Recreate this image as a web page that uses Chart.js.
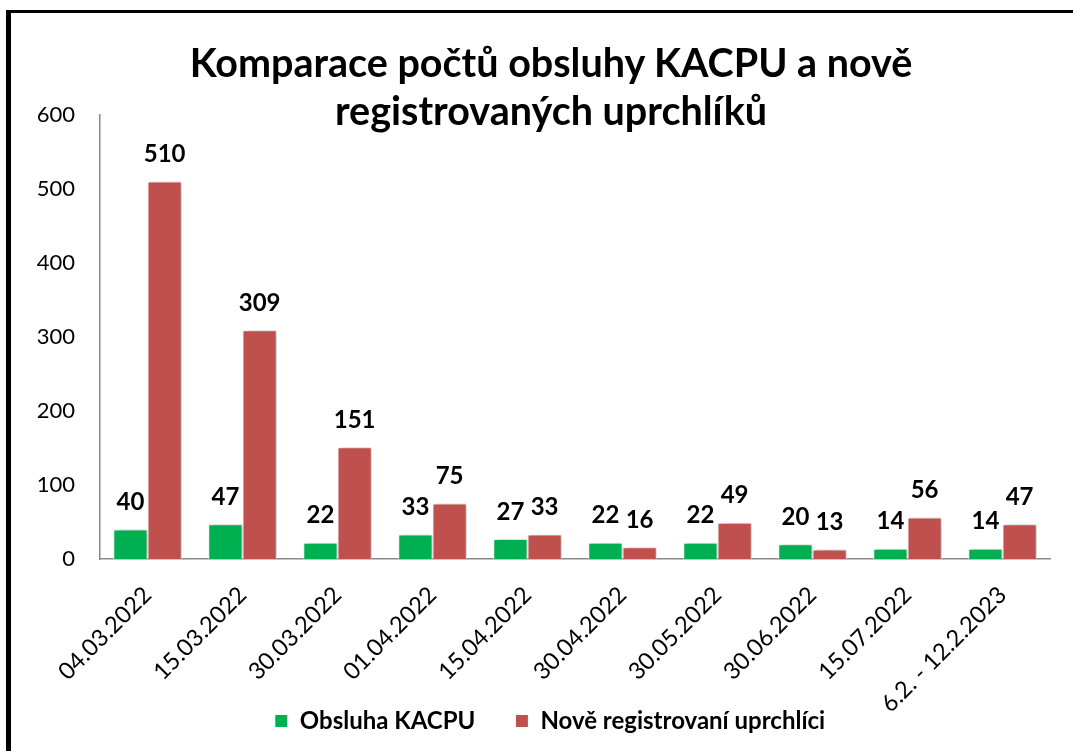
<!DOCTYPE html>
<html lang="cs">
<head>
  <meta charset="UTF-8" />
  <title>Komparace počtů obsluhy KACPU a nově registrovaných uprchlíků</title>
  <style>
    html, body { margin: 0; padding: 0; background: #fff; }
    .wrap { position: relative; width: 1073px; height: 751px; overflow: hidden; }
    .frame { position: absolute; left: 6px; top: 10px; width: 1100px; height: 800px;
      border-left: 5px solid #000; border-top: 3px solid #000; pointer-events: none; }
    .title { position: absolute; left: 151px; width: 800px; top: 38px; text-align: center;
      font-family: Lato, "Open Sans", sans-serif; font-weight: bold; font-size: 39.5px; line-height: 48px; color: #000; }
  </style>
</head>
<body>
  <div class="wrap">
    <canvas id="chart"></canvas>
    <div class="title">Komparace počtů obsluhy KACPU a nově<br>registrovaných uprchlíků</div>
    <div class="frame"></div>
  </div>

  <script src="https://cdn.jsdelivr.net/npm/chart.js@4.4.1/dist/chart.umd.min.js"></script>
  <script>
    const categories = ['04.03.2022', '15.03.2022', '30.03.2022', '01.04.2022', '15.04.2022',
      '30.04.2022', '30.05.2022', '30.06.2022', '15.07.2022', '6.2. - 12.2.2023'];
    const obsluhaKacpu = [40, 47, 22, 33, 27, 22, 22, 20, 14, 14];
    const noveRegistrovani = [510, 309, 151, 75, 33, 16, 49, 13, 56, 47];
    const seriesNames = ['Obsluha KACPU', 'Nově registrovaní uprchlíci'];
    const yTicks = [0, 100, 200, 300, 400, 500, 600];

    const FONT = 'Lato, "Open Sans", sans-serif';

    // stin pod sloupci
    const shadowPlugin = {
      id: 'barShadow',
      beforeDatasetsDraw(chart) {
        const ctx = chart.ctx;
        ctx.save();
        ctx.shadowColor = 'rgba(0,0,0,0.30)';
        ctx.shadowBlur = 6;
        ctx.shadowOffsetX = 2;
        ctx.shadowOffsetY = 0;
      },
      afterDatasetsDraw(chart) {
        chart.ctx.restore();
      }
    };

    // popisky hodnot nad sloupci
    const valueLabels = {
      id: 'valueLabels',
      afterDatasetsDraw(chart) {
        const ctx = chart.ctx;
        ctx.save();
        ctx.font = 'bold 24px ' + FONT;
        ctx.fillStyle = '#000';
        ctx.textAlign = 'center';
        ctx.textBaseline = 'middle';
        chart.data.datasets.forEach((ds, i) => {
          chart.getDatasetMeta(i).data.forEach((bar, j) => {
            ctx.fillText(String(ds.data[j]), bar.x, bar.y - 27);
          });
        });
        ctx.restore();
      }
    };

    // popisky os smi presahovat sve boxy (jinak se orezou)
    const longLabels = {
      id: 'longLabels',
      afterLayout(chart) {
        chart.scales.x.bottom = chart.height;
        chart.scales.y.left = 0;
      }
    };

    new Chart(document.getElementById('chart'), {
      type: 'bar',
      data: {
        labels: categories,
        datasets: [
          { label: seriesNames[0], data: obsluhaKacpu, backgroundColor: '#00B050',
            borderColor: '#fff', borderWidth: 1 },
          { label: seriesNames[1], data: noveRegistrovani, backgroundColor: '#C0504D',
            borderColor: '#fff', borderWidth: 1 }
        ]
      },
      options: {
        responsive: true,
        maintainAspectRatio: false,
        animation: false,
        layout: { padding: { top: 115, right: 23, bottom: 8, left: 50 } },
        datasets: { bar: { categoryPercentage: 0.72, barPercentage: 1.0 } },
        plugins: {
          title: { display: false },
          tooltip: { enabled: false },
          legend: {
            position: 'bottom',
            labels: {
              boxWidth: 13, boxHeight: 13, padding: 40, color: '#000',
              font: { family: FONT, size: 24, weight: 'bold' }
            }
          }
        },
        scales: {
          x: {
            grid: { display: false, drawTicks: false },
            border: { display: true, color: '#898989', width: 1.5 },
            ticks: {
              color: '#000', maxRotation: 45, minRotation: 45, padding: 22,
              font: { family: FONT, size: 23.5 }
            },
            afterFit(scale) { scale.height = 110; }
          },
          y: {
            min: 0, max: 600,
            grid: { display: false, drawTicks: false },
            border: { display: true, color: '#898989', width: 1.5 },
            afterBuildTicks(scale) { scale.ticks = yTicks.map(v => ({ value: v })); },
            ticks: {
              color: '#000', padding: 25,
              font: { family: FONT, size: 22 }
            },
            afterFit(scale) { scale.width = 50; }
          }
        }
      },
      plugins: [shadowPlugin, valueLabels, longLabels]
    });
  </script>
</body>
</html>
